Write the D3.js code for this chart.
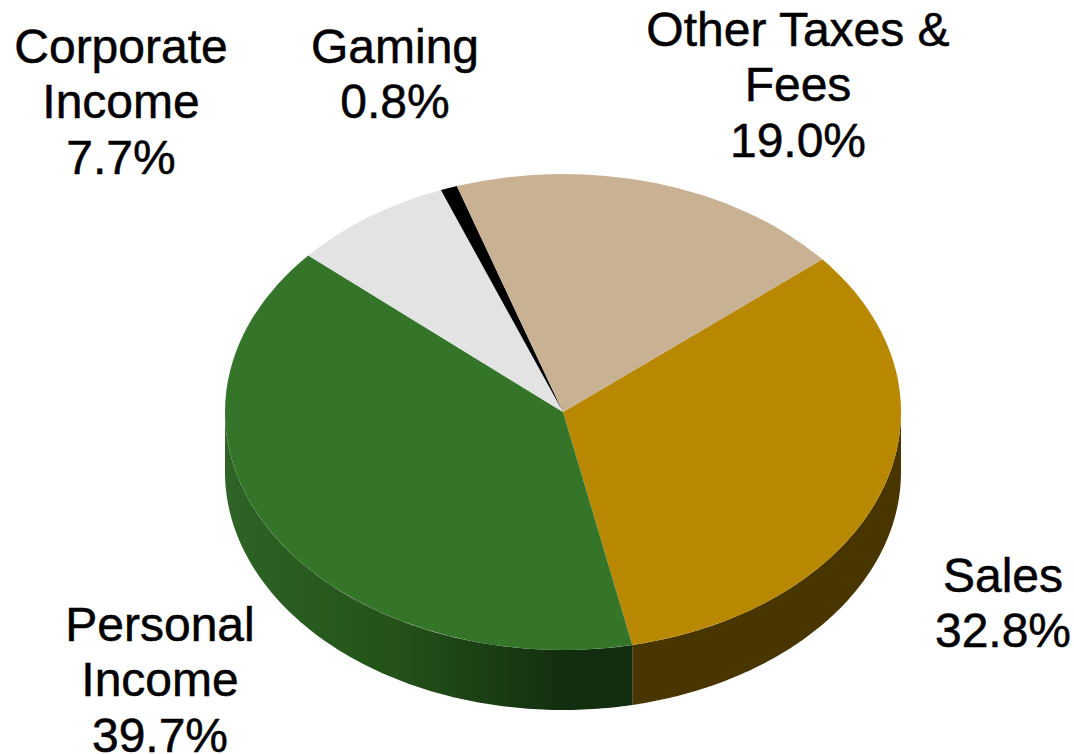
<!DOCTYPE html>
<html>
<head>
<meta charset="utf-8">
<script src="https://cdn.jsdelivr.net/npm/d3@7/dist/d3.min.js"></script>
<style>html,body{margin:0;padding:0;background:#fff;overflow:hidden}svg{display:block}</style>
</head>
<body>
<svg id="chart" width="1074" height="754"></svg>
<script>
const categories = ["Sales", "Personal Income", "Corporate Income", "Gaming", "Other Taxes & Fees"];
const values = [32.8, 39.7, 7.7, 0.8, 19.0];
const topColors = ["#b88800", "#34752a", "#e3e3e3", "#000000", "#c9b294"];
const labelLines = [["Sales", "32.8%"], ["Personal", "Income", "39.7%"], ["Corporate", "Income", "7.7%"], ["Gaming", "0.8%"], ["Other Taxes &", "Fees", "19.0%"]];
const labelCx = [1003, 160, 121, 395, 798];
const labelFirstBaseline = [592, 641, 63, 63, 46];

const cx = 563, cy = 412, rx = 338, ry = 238, depth = 60, lineGap = 55.3;
const startDeg = 50.1;
const svg = d3.select("#chart");

const grad = svg.append("defs").append("linearGradient")
  .attr("id", "greenSide").attr("gradientUnits", "userSpaceOnUse")
  .attr("x1", cx - rx).attr("x2", cx + 40).attr("y1", 0).attr("y2", 0);
grad.append("stop").attr("offset", 0).attr("stop-color", "#2e6425");
grad.append("stop").attr("offset", 0.45).attr("stop-color", "#245219");
grad.append("stop").attr("offset", 0.9).attr("stop-color", "#132d10");
grad.append("stop").attr("offset", 1).attr("stop-color", "#132d10");
const sideFill = ["#483500", "url(#greenSide)", null, null, null];

const a0 = startDeg * Math.PI / 180;
const pie = d3.pie().sort(null).startAngle(a0).endAngle(a0 + 2 * Math.PI);
const arcs = pie(values);
const arc = d3.arc().innerRadius(0).outerRadius(rx);

const px = t => cx + rx * Math.sin(t);
const py = t => cy - ry * Math.cos(t);

// Rim: only the front half of the ellipse is visible
const sides = svg.append("g");
arcs.forEach((d, i) => {
  const lo = Math.max(d.startAngle, Math.PI / 2);
  const hi = Math.min(d.endAngle, 3 * Math.PI / 2);
  if (hi <= lo || !sideFill[i]) return;
  const ts = d3.range(0, 121).map(k => lo + (hi - lo) * k / 120);
  const pts = ts.map(t => [px(t), py(t)]).concat(ts.slice().reverse().map(t => [px(t), py(t) + depth]));
  sides.append("path")
    .attr("d", d3.line()(pts) + "Z")
    .attr("fill", sideFill[i]);
});

// Top face: a circular pie squashed to the ellipse
svg.append("g")
  .attr("transform", `translate(${cx},${cy}) scale(1,${ry / rx})`)
  .selectAll("path").data(arcs).join("path")
  .attr("d", arc)
  .attr("fill", (d, i) => topColors[i]);

// Labels
const labels = svg.append("g")
  .attr("font-family", "'Liberation Sans', Arial, sans-serif")
  .attr("font-size", 48)
  .attr("fill", "#000")
  .attr("stroke", "#000")
  .attr("stroke-width", 0.5)
  .attr("text-anchor", "middle");
labelLines.forEach((lines, i) => {
  labels.selectAll(null).data(lines).join("text")
    .attr("x", labelCx[i])
    .attr("y", (d, k) => labelFirstBaseline[i] + k * lineGap)
    .text(d => d);
});
</script>
</body>
</html>
